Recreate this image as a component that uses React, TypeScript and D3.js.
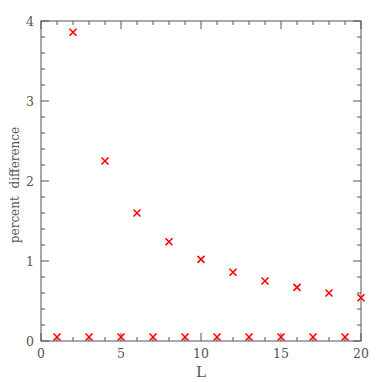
import React, { useEffect, useRef } from 'react';
import * as d3 from 'd3';

// L values and percent difference
const evenL = [2, 4, 6, 8, 10, 12, 14, 16, 18, 20];
const evenDiff = [3.86, 2.25, 1.6, 1.24, 1.02, 0.86, 0.75, 0.67, 0.6, 0.54];
const oddL = [1, 3, 5, 7, 9, 11, 13, 15, 17, 19];
const oddDiff = [0.05, 0.05, 0.05, 0.05, 0.05, 0.05, 0.05, 0.05, 0.05, 0.05];
const xTicks = [0, 5, 10, 15, 20];
const yTicks = [0, 1, 2, 3, 4];

const App = () => {
  const ref = useRef<SVGSVGElement>(null);

  useEffect(() => {
    const svg = d3.select(ref.current);
    svg.selectAll('*').remove();
    const left = 41, right = 361, top = 21, bottom = 341;
    const font = 'DejaVu Serif, Liberation Serif, serif';
    const axisColor = '#555';

    const x = d3.scaleLinear().domain([0, 20]).range([left, right]);
    const y = d3.scaleLinear().domain([0, 4]).range([bottom, top]);

    const g = svg.append('g');

    // frame
    g.append('rect')
      .attr('x', left).attr('y', top)
      .attr('width', right - left).attr('height', bottom - top)
      .attr('fill', 'none').attr('stroke', axisColor).attr('stroke-width', 1);

    // x ticks, bottom and top
    const xMinor = d3.range(0, 21, 1);
    xMinor.forEach(v => {
      const len = v % 5 === 0 ? 8 : 4;
      g.append('line').attr('x1', x(v)).attr('x2', x(v))
        .attr('y1', bottom).attr('y2', bottom - len)
        .attr('stroke', axisColor);
      g.append('line').attr('x1', x(v)).attr('x2', x(v))
        .attr('y1', top).attr('y2', top + len)
        .attr('stroke', axisColor);
    });
    // y ticks, left and right
    const yMinor = d3.range(0, 21).map(i => i * 0.2);
    yMinor.forEach((v, i) => {
      const len = i % 5 === 0 ? 8 : 4;
      g.append('line').attr('y1', y(v)).attr('y2', y(v))
        .attr('x1', left).attr('x2', left + len)
        .attr('stroke', axisColor);
      g.append('line').attr('y1', y(v)).attr('y2', y(v))
        .attr('x1', right).attr('x2', right - len)
        .attr('stroke', axisColor);
    });

    // tick labels
    g.selectAll('.xl').data(xTicks).enter().append('text')
      .attr('x', d => x(d)).attr('y', bottom + 17)
      .attr('text-anchor', 'middle')
      .style('font-family', font).style('font-size', '12.5px').style('fill', '#555')
      .text(d => d);
    g.selectAll('.yl').data(yTicks).enter().append('text')
      .attr('x', left - 7).attr('y', d => y(d) + 4.5)
      .attr('text-anchor', 'end')
      .style('font-family', font).style('font-size', '12.5px').style('fill', '#555')
      .text(d => d);

    // axis titles
    g.append('text')
      .attr('x', (left + right) / 2).attr('y', 377)
      .attr('text-anchor', 'middle')
      .style('font-family', font).style('font-size', '15px').style('fill', '#555')
      .text('L');
    g.append('text')
      .attr('transform', `translate(19,${(top + bottom) / 2 + 4}) rotate(-90)`)
      .attr('text-anchor', 'middle')
      .style('font-family', font).style('font-size', '12px').style('fill', '#555')
      .style('word-spacing', '4px')
      .text('percent difference');

    // markers
    const pts = evenL.map((l, i) => [l, evenDiff[i]])
      .concat(oddL.map((l, i) => [l, oddDiff[i]]));
    const s = 3.5;
    g.selectAll('.pt').data(pts).enter().append('path')
      .attr('d', d => {
        const cx = x(d[0]), cy = y(d[1]);
        return `M${cx - s},${cy - s}L${cx + s},${cy + s}M${cx - s},${cy + s}L${cx + s},${cy - s}`;
      })
      .attr('stroke', '#ff0000').attr('stroke-width', 1.6).attr('fill', 'none');
  }, []);

  return (
    <svg ref={ref} width={382} height={382}
      style={{ position: 'absolute', left: 0, top: 0, background: '#fff' }} />
  );
};

export default App;
